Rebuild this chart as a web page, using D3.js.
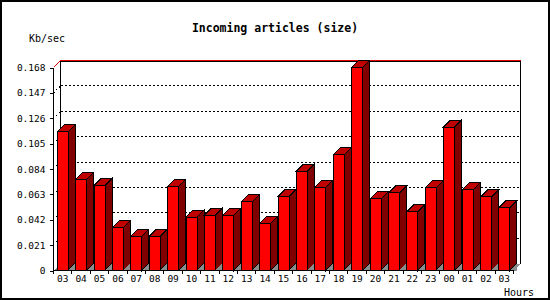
<!DOCTYPE html>
<html><head><meta charset="utf-8">
<script src="https://cdn.jsdelivr.net/npm/d3@7/dist/d3.min.js"></script>
<style>
html,body{margin:0;padding:0;background:#fff;}
text{font-family:"DejaVu Sans Mono",monospace;fill:#000;}
</style></head>
<body>
<svg id="chart" width="550" height="300"></svg>
<script>
const hours = ["03","04","05","06","07","08","09","10","11","12","13","14","15","16","17","18","19","20","21","22","23","00","01","02","03"];
const values = [0.115,0.0755,0.0705,0.0353,0.0284,0.0284,0.0697,0.0441,0.0457,0.0457,0.0567,0.0391,0.0614,0.0821,0.0689,0.0956,0.168,0.0592,0.0642,0.0485,0.0683,0.1187,0.0667,0.0609,0.0518];
const yTicks = [0,0.021,0.042,0.063,0.084,0.105,0.126,0.147,0.168];
const title = "Incoming articles (size)";
const yTitle = "Kb/sec";
const xTitle = "Hours";

const svg = d3.select("#chart");
const D = 7;
const x = d3.scaleBand().domain(d3.range(values.length)).range([53.5, 513.5]);
const y = d3.scaleLinear().domain([0, 0.168]).range([270.5, 67.5]);
const x0 = x.range()[0], x1 = x.range()[1];
const yb = y(0), yt = y(0.168);
const pts = a => a.map(p => p.join(",")).join(" ");

// outer border
svg.append("rect").attr("x",1).attr("y",1).attr("width",548).attr("height",298)
  .attr("fill","#fff").attr("stroke","#000").attr("stroke-width",2);

// title texts
svg.append("text").attr("x",275).attr("y",32).attr("text-anchor","middle")
  .attr("font-size","11.5px").attr("font-weight","bold").text(title);
svg.append("text").attr("x",29).attr("y",42).attr("font-size","10px").text(yTitle);
svg.append("text").attr("x",504).attr("y",296).attr("font-size","10px").text(xTitle);

const g = svg.append("g").attr("shape-rendering","crispEdges");

// back wall
g.append("rect").attr("x",x0+D).attr("y",yt-D).attr("width",x1-x0).attr("height",yb-yt)
  .attr("fill","#fff").attr("stroke","none");

// grid lines on back wall and left wall
yTicks.filter(v => v>0 && v<0.168).forEach(v => {
  g.append("line").attr("x1",x0+D).attr("x2",x1+D).attr("y1",y(v)-D).attr("y2",y(v)-D)
    .attr("stroke","#000").attr("stroke-dasharray","2,2");
  g.append("line").attr("x1",x0).attr("x2",x0+D).attr("y1",y(v)).attr("y2",y(v)-D)
    .attr("stroke","#000").attr("stroke-dasharray","1,3");
});

// back wall edges (black) and red top line
g.append("line").attr("x1",x0+D).attr("x2",x0+D).attr("y1",yt-D).attr("y2",yb-D).attr("stroke","#000");
g.append("line").attr("x1",x1+D).attr("x2",x1+D).attr("y1",yt-D).attr("y2",yb-D).attr("stroke","#000");
g.append("line").attr("x1",x0+D).attr("x2",x1+D).attr("y1",yt-D+1).attr("y2",yt-D+1).attr("stroke","#000");
g.append("polyline").attr("points",pts([[x0,yt],[x0+D,yt-D],[x1+D,yt-D]]))
  .attr("fill","none").attr("stroke","#e00000");

// floor
g.append("polygon").attr("points",pts([[x0,yb],[x0+D,yb-D],[x1+D,yb-D],[x1,yb]]))
  .attr("fill","#8c8c8c").attr("stroke","none");

// bars
const bw = 11;
const bars = g.selectAll("g.bar").data(values).join("g").attr("class","bar");
bars.each(function(v,i){
  const cx = x(i) + x.bandwidth()/2;
  const xl = cx - bw/2, xr = cx + bw/2, top = y(v);
  const s = d3.select(this);
  s.append("polygon").attr("points",pts([[xr,top],[xr+D,top-D],[xr+D,yb-D],[xr,yb]]))
    .attr("fill","#800000").attr("stroke","#000");
  s.append("polygon").attr("points",pts([[xr,yb],[xr+D,yb-D],[xr+D,yb]]))
    .attr("fill","#8c8c8c").attr("stroke","none");
  s.append("polygon").attr("points",pts([[xl,top],[xl+D,top-D],[xr+D,top-D],[xr,top]]))
    .attr("fill","#c00000").attr("stroke","#000");
  s.append("rect").attr("x",xl).attr("y",top).attr("width",bw).attr("height",yb-top)
    .attr("fill","#ff0000").attr("stroke","#000");
});

// front y axis
const yAxis = d3.axisLeft(y).tickValues(yTicks).tickSize(4).tickPadding(4)
  .tickFormat(d => d===0 ? "0" : d3.format(".3f")(d));
const ya = g.append("g").attr("transform",`translate(${x0},0)`).call(yAxis);
ya.select(".domain").attr("d",`M-0,${yt}V${yb}`);
ya.selectAll("text").attr("font-size","9.5px").attr("font-family","DejaVu Sans Mono");

// front x axis
const xAxis = d3.axisBottom(x).tickSize(0).tickPadding(10).tickFormat(i => hours[i]);
const xa = g.append("g").attr("transform",`translate(0,${yb})`).call(xAxis);
xa.select(".domain").attr("d",`M${x0},0H${x1}`);
xa.selectAll("text").attr("font-size","9.5px").attr("font-family","DejaVu Sans Mono").attr("dy","0.2em");
const bounds = d3.range(values.length+1).map(i => x0 + i*x.step());
xa.selectAll("line.bt").data(bounds).join("line").attr("class","bt")
  .attr("x1",d=>d).attr("x2",d=>d).attr("y1",0).attr("y2",3).attr("stroke","#000");
</script>
</body></html>
